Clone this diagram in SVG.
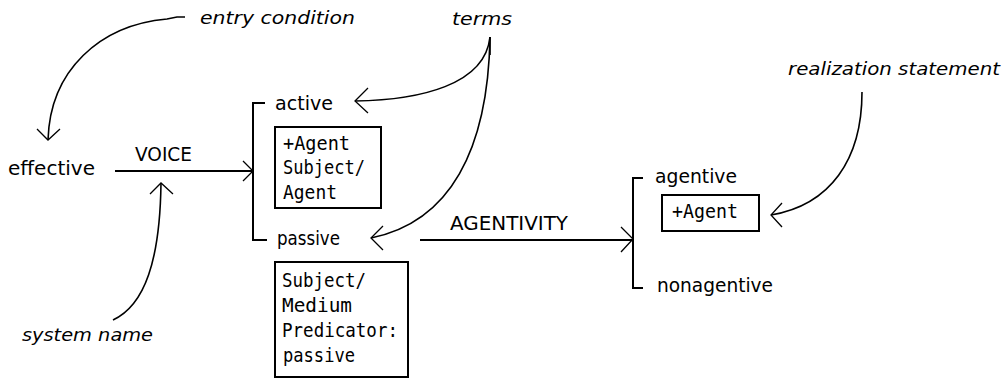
<svg xmlns="http://www.w3.org/2000/svg" width="1005" height="379" viewBox="0 0 1005 379">
  <style>
    .lbl { font-family: "DejaVu Sans", "Liberation Sans", sans-serif; font-size: 20px; fill: #000; }
    .box { font-family: "DejaVu Sans Mono", "Liberation Mono", monospace; font-size: 20px; fill: #000; }
    .note { font-family: "DejaVu Sans", "Liberation Sans", sans-serif; font-style: italic; font-size: 17px; fill: #000; }
    .main { fill: none; stroke: #000; stroke-width: 2; }
    .frame { fill: #fff; stroke: #000; stroke-width: 2; }
    .curve { fill: none; stroke: #000; stroke-width: 1.6; }
    .head { fill: none; stroke: #000; stroke-width: 1.3; }
  </style>
  <rect width="1005" height="379" fill="#fff"/>

  <g id="connectors">
    <!-- VOICE system arrow and bracket -->
    <path class="main" d="M115,171 L253,171"/>
    <path class="head" d="M243,161 L253,171 L243,181"/>
    <path class="main" d="M265,103 L253,103 L253,240 L267,240"/>
    <!-- AGENTIVITY system arrow and bracket -->
    <path class="main" d="M420,240 L633,240"/>
    <path class="head" d="M621,227 L633,239 L621,252"/>
    <path class="main" d="M643,178 L633,178 L633,288 L643,288"/>
    <!-- annotation curves -->
    <path class="curve" d="M185,17 L177,17 L167,19 C100,25 50,70 48,140"/>
    <path class="head" d="M37,129 L48,140 L60,129"/>
    <path class="curve" d="M113,320 C145,305 160,260 161,183"/>
    <path class="head" d="M150,194 L161,183 L173,194"/>
    <path class="curve" d="M490,37 L490,55"/>
    <path class="curve" d="M490,37 C485,85 420,100 355,101"/>
    <path class="head" d="M368,88 L355,101 L368,113"/>
    <path class="curve" d="M490,37 C488,150 450,222 371,238"/>
    <path class="head" d="M383,226 L371,238 L383,250"/>
    <path class="curve" d="M862,92 C862,160 830,205 771,215"/>
    <path class="head" d="M782,203 L771,215 L782,227"/>
  </g>

  <g id="entry-condition">
    <text class="note" x="200" y="24" textLength="155" lengthAdjust="spacingAndGlyphs">entry condition</text>
  </g>
  <g id="terms">
    <text class="note" x="452" y="25" textLength="60" lengthAdjust="spacingAndGlyphs">terms</text>
  </g>
  <g id="realization-statement">
    <text class="note" x="788" y="75" textLength="212" lengthAdjust="spacingAndGlyphs">realization statement</text>
  </g>
  <g id="system-name">
    <text class="note" x="22" y="341" textLength="131" lengthAdjust="spacingAndGlyphs">system name</text>
  </g>

  <g id="effective">
    <text class="lbl" x="8" y="175" textLength="87" lengthAdjust="spacingAndGlyphs">effective</text>
  </g>
  <g id="voice">
    <text class="lbl" x="135" y="161" textLength="57" lengthAdjust="spacingAndGlyphs">VOICE</text>
  </g>
  <g id="active">
    <text class="lbl" x="275" y="110" textLength="58" lengthAdjust="spacingAndGlyphs">active</text>
  </g>
  <g id="active-realization">
    <rect class="frame" x="275" y="127" width="106" height="81"/>
    <text class="box" x="283" y="150" textLength="67" lengthAdjust="spacingAndGlyphs">+Agent</text>
    <text class="box" x="283" y="174" textLength="82" lengthAdjust="spacingAndGlyphs">Subject/</text>
    <text class="box" x="283" y="199" textLength="54" lengthAdjust="spacingAndGlyphs">Agent</text>
  </g>
  <g id="passive">
    <text class="lbl" x="277" y="245" textLength="63" lengthAdjust="spacingAndGlyphs">passive</text>
  </g>
  <g id="passive-realization">
    <rect class="frame" x="275" y="262" width="133" height="115"/>
    <text class="box" x="282" y="287" textLength="84" lengthAdjust="spacingAndGlyphs">Subject/</text>
    <text class="box" x="282" y="312" textLength="70" lengthAdjust="spacingAndGlyphs">Medium</text>
    <text class="box" x="282" y="337" textLength="116" lengthAdjust="spacingAndGlyphs">Predicator:</text>
    <text class="box" x="283" y="362" textLength="72" lengthAdjust="spacingAndGlyphs">passive</text>
  </g>
  <g id="agentivity">
    <text class="lbl" x="450" y="230" textLength="118" lengthAdjust="spacingAndGlyphs">AGENTIVITY</text>
  </g>
  <g id="agentive">
    <text class="lbl" x="655" y="183" textLength="82" lengthAdjust="spacingAndGlyphs">agentive</text>
  </g>
  <g id="agentive-realization">
    <rect class="frame" x="662" y="195" width="97" height="36"/>
    <text class="box" x="672" y="218" textLength="66" lengthAdjust="spacingAndGlyphs">+Agent</text>
  </g>
  <g id="nonagentive">
    <text class="lbl" x="657" y="292" textLength="116" lengthAdjust="spacingAndGlyphs">nonagentive</text>
  </g>
</svg>
